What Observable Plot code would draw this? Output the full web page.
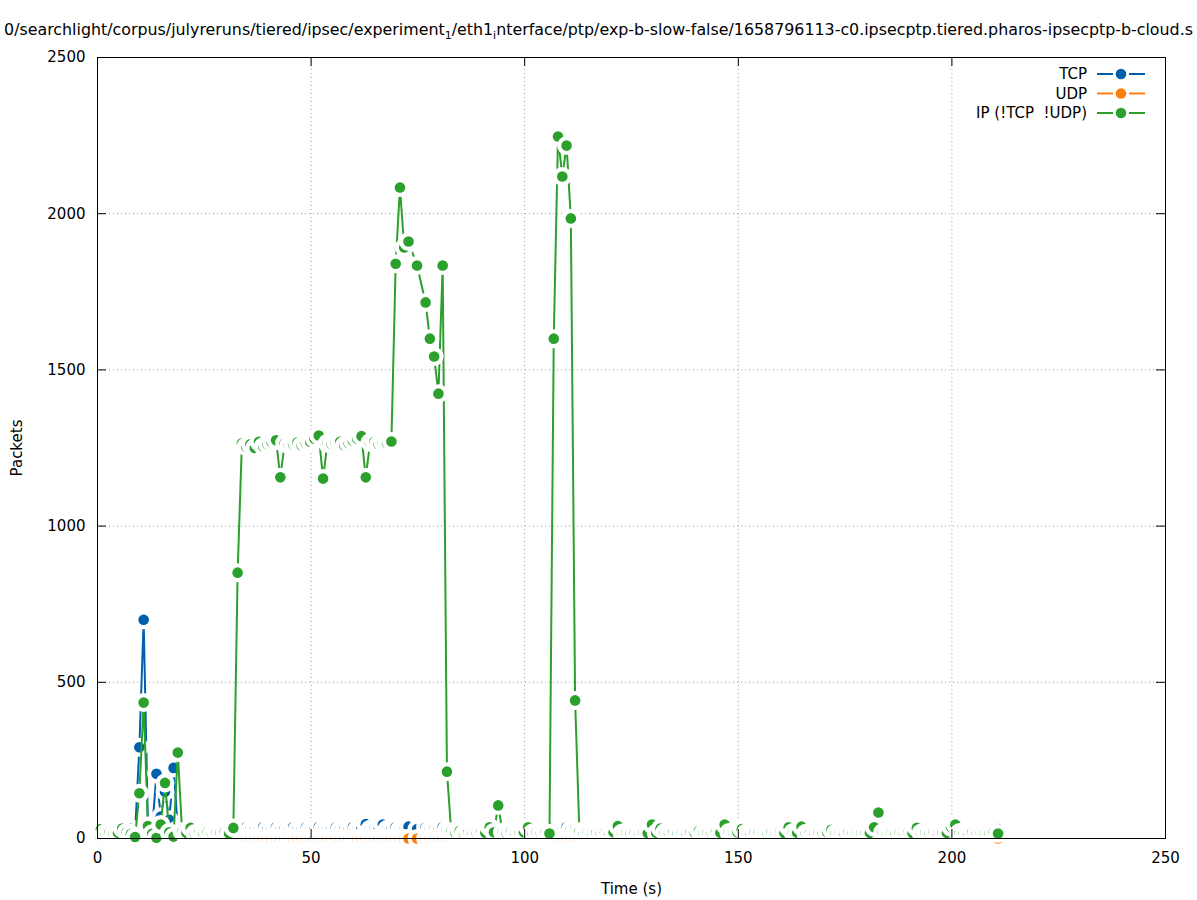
<!DOCTYPE html>
<html><head><meta charset="utf-8">
<script src="https://cdn.jsdelivr.net/npm/d3@7"></script>
<script src="https://cdn.jsdelivr.net/npm/@observablehq/plot@0.6"></script>
<style>
html,body{margin:0;padding:0;background:#fff;}
#wrap{position:relative;width:1197px;height:900px;overflow:hidden;font-family:"DejaVu Sans",sans-serif;color:#000;}
#title{height:45px;position:relative;overflow:hidden;}
#title span{position:absolute;left:50%;top:20px;transform:translateX(-50%);white-space:nowrap;font-size:15.85px;line-height:19px;}
#title sub{font-size:11px;vertical-align:-4px;line-height:0;}
#legend{position:absolute;left:0;top:0;}
</style></head><body>
<div id="wrap"><div id="title"><span id="titletext"></span></div><div id="chart"></div><svg id="legend" width="1197" height="140"></svg></div>
<script>
// ---- data ----
const titleHTML = "0/searchlight/corpus/julyreruns/tiered/ipsec/experiment<sub>1</sub>/eth1<sub>i</sub>nterface/ptp/exp-b-slow-false/1658796113-c0.ipsecptp.tiered.pharos-ipsecptp-b-cloud.s";
const xLabel = "Time (s)";
const yLabel = "Packets";
const seriesNames = ["TCP", "UDP", "IP (!TCP  !UDP)"];
const seriesColors = ["#0060ad", "#ff7f0e", "#2ca02c"];
const xTicks = [0, 50, 100, 150, 200, 250];
const yTicks = [0, 500, 1000, 1500, 2000, 2500];

const times = [
  0.8,1.8,2.8,3.8,4.8,5.8,6.8,7.8,8.8,9.8,
  10.8,11.8,12.8,13.8,14.8,15.8,16.8,17.8,18.8,19.8,
  20.8,21.8,22.8,23.8,24.8,25.8,26.8,27.8,28.8,29.8,
  30.8,31.8,32.8,33.8,34.8,35.8,36.8,37.8,38.8,39.8,
  40.8,41.8,42.8,43.8,44.8,45.8,46.8,47.8,48.8,49.8,
  50.8,51.8,52.8,53.8,54.8,55.8,56.8,57.8,58.8,59.8,
  60.8,61.8,62.8,63.8,64.8,65.8,66.8,67.8,68.8,69.8,
  70.8,71.8,72.8,74.8,76.8,77.8,78.8,79.8,
  80.8,81.8,82.8,83.8,84.8,85.8,86.8,87.8,88.8,89.8,
  90.8,91.8,92.8,93.8,94.8,95.8,96.8,97.8,98.8,99.8,
  100.8,101.8,102.8,103.8,104.8,105.8,106.8,107.8,108.8,109.8,
  110.8,111.8,112.8,113.8,114.8,115.8,116.8,117.8,118.8,119.8,
  120.8,121.8,122.8,123.8,124.8,125.8,126.8,127.8,128.8,129.8,
  130.8,131.8,132.8,133.8,134.8,135.8,136.8,137.8,138.8,139.8,
  140.8,141.8,142.8,143.8,144.8,145.8,146.8,147.8,148.8,149.8,
  150.8,151.8,152.8,153.8,154.8,155.8,156.8,157.8,158.8,159.8,
  160.8,161.8,162.8,163.8,164.8,165.8,166.8,167.8,168.8,169.8,
  170.8,171.8,172.8,173.8,174.8,175.8,176.8,177.8,178.8,179.8,
  180.8,181.8,182.8,183.8,184.8,185.8,186.8,187.8,188.8,189.8,
  190.8,191.8,192.8,193.8,194.8,195.8,196.8,197.8,198.8,199.8,
  200.8,201.8,202.8,203.8,204.8,205.8,206.8,207.8,208.8,209.8,210.8
];

const tcpPackets = [
  28,30,27,31,29,30,28,32,20,292,
  700,40,30,207,70,150,60,226,30,28,
  30,29,31,28,30,32,29,30,28,31,
  30,29,32,30,36,29,31,30,37,30,
  29,36,30,31,29,37,30,29,36,30,
  31,37,30,29,30,36,30,31,29,37,
  30,31,46,30,31,29,45,30,31,37,
  30,29,38,30,36,30,31,29,
  37,30,29,30,31,28,30,29,31,30,
  29,30,28,31,30,29,30,31,28,30,
  29,30,31,28,30,29,36,30,29,37,
  30,31,29,30,28,31,30,29,30,28,
  30,29,31,30,28,30,29,31,30,28,
  31,30,29,30,28,31,30,29,30,31,
  28,30,29,31,30,28,30,29,31,30,
  29,30,28,31,30,29,30,31,28,30,
  30,29,31,30,28,30,29,31,30,28,
  31,30,29,30,28,31,30,29,30,31,
  28,30,29,31,30,28,30,29,31,30,
  29,30,28,31,30,29,30,31,28,30,
  30,29,31,30,28,30,29,31,30,28,30
];

const udpPackets = [
  0,0,0,0,0,0,0,0,0,0,
  0,0,0,0,0,0,0,0,0,0,
  0,0,0,0,0,0,0,0,0,0,
  0,0,0,0,0,0,0,0,0,0,
  0,0,0,0,0,0,0,0,0,0,
  0,0,0,0,0,0,0,0,0,0,
  0,0,0,0,0,0,0,0,0,0,
  0,0,0,0,0,0,0,0,
  0,0,0,0,0,0,0,0,0,0,
  0,0,0,0,0,0,0,0,0,0,
  0,0,0,0,0,0,0,0,0,0,
  0,0,0,0,0,0,0,0,0,0,
  0,0,0,0,0,0,0,0,0,0,
  0,0,0,0,0,0,0,0,0,0,
  0,0,0,0,0,0,0,0,0,0,
  0,0,0,0,0,0,0,0,0,0,
  0,0,0,0,0,0,0,0,0,0,
  0,0,0,0,0,0,0,0,0,0,
  0,0,0,0,0,0,0,0,0,0,
  0,0,0,0,0,0,0,0,0,0,
  0,0,0,0,0,0,0,0,0,0,0
];

const ipPackets = [
  30,18,20,16,18,32,20,14,5,145,
  435,40,15,2,45,178,20,6,275,22,
  18,34,16,20,18,22,17,20,19,21,
  16,34,851,1265,1255,1262,1250,1270,1255,1262,
  1268,1275,1156,1265,1260,1262,1268,1258,1265,1270,
  1280,1290,1152,1265,1262,1268,1270,1258,1265,1272,
  1280,1288,1156,1268,1270,1262,1268,1265,1271,1840,
  2084,1892,1911,1834,1716,1600,1543,1424,
  1834,214,22,18,25,16,20,18,17,20,
  18,36,20,106,20,17,22,18,19,20,
  36,18,20,17,19,16,1600,2247,2119,2218,
  1985,442,22,18,20,17,19,18,20,17,
  20,40,18,19,17,20,18,19,17,45,
  18,32,19,17,20,18,19,17,20,18,
  25,18,19,17,20,18,45,19,18,20,
  30,18,17,20,19,18,17,20,18,19,
  17,36,19,18,38,17,20,18,19,17,
  20,28,18,19,17,20,18,19,17,18,
  18,36,83,19,18,20,17,19,18,20,
  17,34,18,19,17,20,18,19,18,36,
  45,19,18,17,20,18,19,17,18,20,16
];

// ---- build ----
document.getElementById("titletext").innerHTML = titleHTML;

const seriesValues = [tcpPackets, udpPackets, ipPackets];
const seriesData = seriesValues.map(vals => times.map((t, i) => ({t, v: vals[i]})));

const seriesMarks = [];
seriesData.forEach((data, k) => {
  seriesMarks.push(Plot.line(data, {x: "t", y: "v", stroke: seriesColors[k], strokeWidth: 2}));
  seriesMarks.push(Plot.dot(data, {x: "t", y: "v", r: 5.3, fill: seriesColors[k], stroke: "white", strokeWidth: 8.4, paintOrder: "stroke"}));
});

const gridStyle = {stroke: "#a0a0a0", strokeOpacity: 1, strokeWidth: 1, strokeDasharray: "1,3"};

const chart = Plot.plot({
  width: 1197,
  height: 855,
  marginTop: 12,
  marginBottom: 62,
  marginLeft: 97,
  marginRight: 32,
  style: {fontFamily: "DejaVu Sans", fontSize: "15px", background: "white", color: "black", overflow: "visible"},
  x: {domain: [0, 250]},
  y: {domain: [0, 2500]},
  marks: [
    Plot.gridX(xTicks, gridStyle),
    Plot.gridY(yTicks, gridStyle),
    ...seriesMarks,
    Plot.frame({stroke: "black", strokeWidth: 1}),
    Plot.ruleX(xTicks, {insetTop: 772, stroke: "black"}),
    Plot.ruleX(xTicks, {insetBottom: 772, stroke: "black"}),
    Plot.ruleY(yTicks, {insetRight: 1059, stroke: "black"}),
    Plot.ruleY(yTicks, {insetLeft: 1059, stroke: "black"}),
    Plot.axisX(xTicks, {tickSize: 0, tickPadding: 14, tickFormat: d => String(d), label: xLabel, labelAnchor: "center", labelArrow: "none", labelOffset: 55}),
    Plot.axisY(yTicks, {tickSize: 0, tickPadding: 12, tickFormat: d => String(d), label: yLabel, labelAnchor: "center", labelArrow: "none", labelOffset: 86})
  ]
});
document.getElementById("chart").appendChild(chart);

// ---- legend (top-right, inside plot area) ----
const leg = d3.select("#legend");
seriesNames.forEach((name, k) => {
  const y = 74 + 19.5 * k;
  leg.append("text").attr("x", 1087).attr("y", y).attr("text-anchor", "end")
    .attr("dominant-baseline", "central").attr("font-family", "DejaVu Sans").attr("font-size", 15)
    .attr("xml:space", "preserve").style("white-space", "pre")
    .attr("fill", "black").text(name);
  leg.append("line").attr("x1", 1097).attr("x2", 1113).attr("y1", y).attr("y2", y)
    .attr("stroke", seriesColors[k]).attr("stroke-width", 2);
  leg.append("line").attr("x1", 1129).attr("x2", 1145).attr("y1", y).attr("y2", y)
    .attr("stroke", seriesColors[k]).attr("stroke-width", 2);
  leg.append("circle").attr("cx", 1121).attr("cy", y).attr("r", 5.3).attr("fill", seriesColors[k]);
});
</script>
</body></html>
